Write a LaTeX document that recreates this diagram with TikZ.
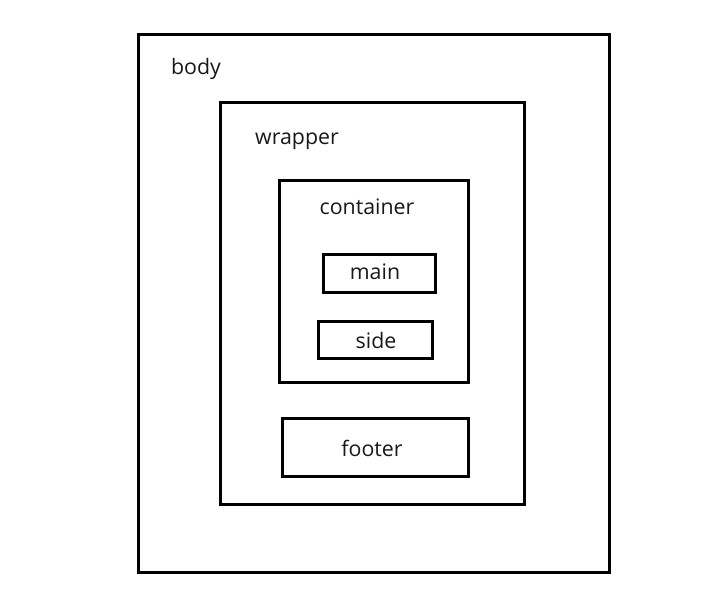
\documentclass[tikz,border=0pt]{standalone}
\usepackage{fontspec}
\setmainfont{Open Sans}
\begin{document}
\begin{tikzpicture}[x=0.75pt,y=-0.75pt,
  box/.style={draw=black,line width=2.25pt,inner sep=0pt,outer sep=0pt,rectangle},
  lbl/.style={font=\fontsize{16pt}{19pt}\selectfont,inner sep=0pt,text=black!90}]
\useasboundingbox[fill=white] (0,0) rectangle (710,599);
\node[box,minimum width=471*0.75pt,minimum height=538*0.75pt] (body) at (374,303.5) {};
\node[box,minimum width=304*0.75pt,minimum height=402*0.75pt] (wrapper) at (372.5,303.5) {};
\node[box,minimum width=189*0.75pt,minimum height=202*0.75pt] (container) at (374,281.5) {};
\node[box,minimum width=112*0.75pt,minimum height=38*0.75pt] (main) at (379.5,273.5) {};
\node[box,minimum width=114*0.75pt,minimum height=37*0.75pt] (side) at (375.5,340) {};
\node[box,minimum width=186*0.75pt,minimum height=58*0.75pt] (footer) at (375.5,447.5) {};
\node[lbl] (tbody) at (196,68.5) {body};
\node[lbl] (twrapper) at (297,141) {wrapper};
\node[lbl] (tcontainer) at (367,207) {container};
\node[lbl] (tmain) at (375,271.5) {main};
\node[lbl] (tside) at (376,340.5) {side};
\node[lbl] (tfooter) at (372,448.5) {footer};
\end{tikzpicture}
\end{document}
